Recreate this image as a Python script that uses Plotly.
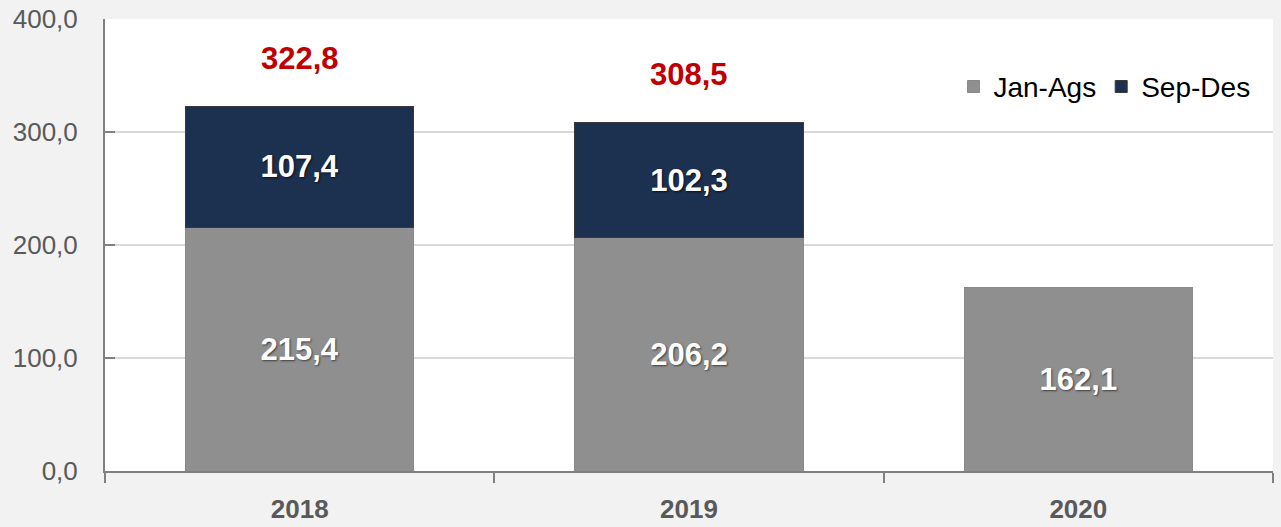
import plotly.graph_objects as go

years = ["2018", "2019", "2020"]
jan_ags = [215.4, 206.2, 162.1]
sep_des = [107.4, 102.3, None]
totals = [322.8, 308.5, None]
y_ticks = [0, 100, 200, 300, 400]
y_tick_labels = ["0,0", "100,0", "200,0", "300,0", "400,0"]

FONT = "Liberation Sans, Arial, sans-serif"

def fmt(v):
    return f"{v:.1f}".replace(".", ",")

fig = go.Figure()
fig.add_trace(go.Bar(
    name="Jan-Ags", x=years, y=jan_ags,
    marker=dict(color="#8f8f8f", line=dict(color="#888888", width=1)),
    text=[fmt(v) for v in jan_ags], textposition="inside", insidetextanchor="middle",
    textfont=dict(family=FONT, size=31, color="white", weight="bold",
                  shadow="1px 1px 2px #404040"),
))
fig.add_trace(go.Bar(
    name="Sep-Des", x=years, y=sep_des,
    marker=dict(color="#1c3050", line=dict(color="#3a3a3a", width=1)),
    text=[fmt(v) if v is not None else "" for v in sep_des], textposition="inside",
    insidetextanchor="middle",
    textfont=dict(family=FONT, size=31, color="white", weight="bold",
                  shadow="1px 1px 2px #101010"),
))

for i, t in enumerate(totals):
    if t is not None:
        fig.add_annotation(x=i, y=t, xref="x", yref="y", text=fmt(t), showarrow=False,
                           yanchor="bottom", yshift=28,
                           font=dict(family=FONT, size=31, color="#c00000", weight="bold"))

fig.update_layout(
    barmode="stack", bargap=0.414,
    width=1281, height=527,
    margin=dict(l=105, r=8, t=19, b=56),
    paper_bgcolor="#f2f2f2", plot_bgcolor="white",
    uniformtext=dict(mode=False),
    legend=dict(orientation="h", x=0.985, xanchor="right", y=0.85, yanchor="middle",
                bgcolor="rgba(0,0,0,0)", font=dict(family=FONT, size=28, color="black"),
                traceorder="normal"),
    showlegend=True,
)
fig.update_yaxes(range=[0, 400], tickvals=y_ticks, ticktext=y_tick_labels, automargin=False,
                 showgrid=True, gridcolor="#d9d9d9", gridwidth=2,
                 showline=True, linecolor="#808080", linewidth=2,
                 ticks="inside", ticklen=10, tickcolor="#808080", tickwidth=2,
                 ticklabelstandoff=20,
                 tickfont=dict(family=FONT, size=26, color="#595959"), zeroline=False)
fig.update_xaxes(type="category", range=[-0.5, 2.5], automargin=False, tickangle=0,
                 showline=True, linecolor="#808080", linewidth=2,
                 ticks="outside", ticklen=10, tickcolor="#808080", tickwidth=2,
                 tickson="boundaries", ticklabelstandoff=14,
                 tickfont=dict(family=FONT, size=26, color="#595959", weight="bold"))

fig.write_html("out.html", config={"displayModeBar": False},
               post_script="document.body.style.margin='0';document.body.style.background='#f2f2f2';")
